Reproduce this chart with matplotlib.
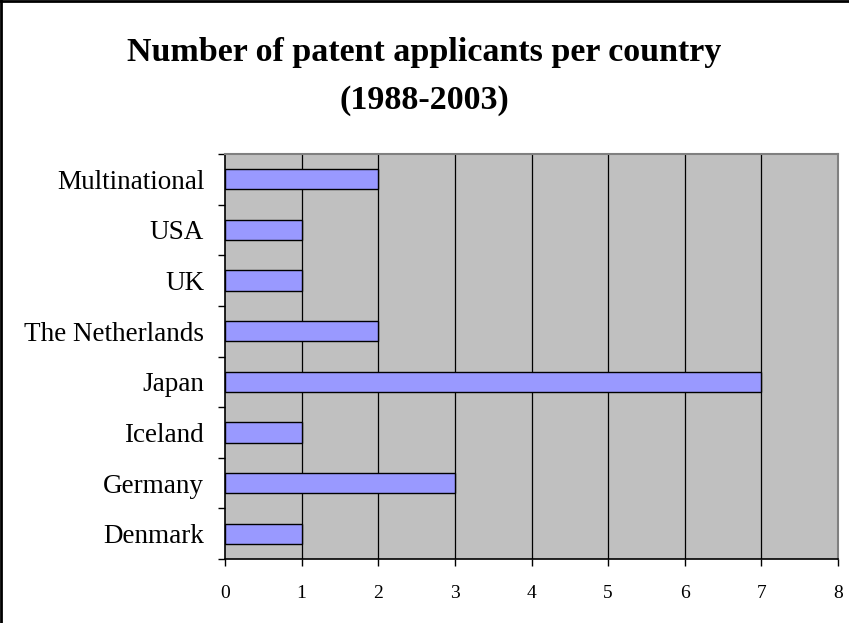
import matplotlib
matplotlib.use("Agg")
import matplotlib.pyplot as plt
from matplotlib.lines import Line2D

categories = ["Denmark", "Germany", "Iceland", "Japan", "The Netherlands", "UK", "USA", "Multinational"]
values = [1, 3, 1, 7, 2, 1, 1, 2]
x_ticks = [0, 1, 2, 3, 4, 5, 6, 7, 8]

plt.rcParams['font.family'] = ['Liberation Serif', 'DejaVu Serif']

fig = plt.figure(figsize=(8.49, 6.23), dpi=100)
fig.patch.set_facecolor("white")
ax = fig.add_axes([225/849, 1-559/623, (838-225)/849, (559-154)/623])
ax.set_facecolor("#C0C0C0")

ypos = list(range(len(categories)))
ax.barh(ypos, values, height=0.4, color="#9999FF", edgecolor="black", linewidth=1.0, zorder=3)

ax.set_xlim(0, 8)
ax.set_ylim(-0.5, len(categories) - 0.5)
ax.set_xticks(x_ticks)
ax.set_xticklabels([str(t) for t in x_ticks], fontsize=14)
for t in x_ticks[1:-1]:
    ax.axvline(t, color="black", linewidth=0.9, zorder=2)

ax.set_yticks(ypos)
ax.set_yticklabels(categories, fontsize=19.5)
ax.set_yticks([i - 0.5 for i in range(len(categories) + 1)], minor=True)
ax.tick_params(axis="y", which="major", length=0, pad=15)
ax.tick_params(axis="y", which="minor", length=5, width=1, direction="out", color="black")
ax.tick_params(axis="x", which="major", length=5, width=1, direction="out", pad=14, color="black")

for s in ["left", "bottom"]:
    ax.spines[s].set_color("black")
    ax.spines[s].set_linewidth(1.2)
for s in ["top", "right"]:
    ax.spines[s].set_color("#808080")
    ax.spines[s].set_linewidth(1.5)

fig.text(0.5, 1-53/623, "Number of patent applicants per country", ha="center", va="center",
         fontsize=24.5, fontweight="bold")
fig.text(0.5, 1-101/623, "(1988-2003)", ha="center", va="center", fontsize=24.5, fontweight="bold")

fig.add_artist(Line2D([0.0015, 0.0015], [0, 1], transform=fig.transFigure, color="black", linewidth=2))
fig.add_artist(Line2D([0, 1], [0.998, 0.998], transform=fig.transFigure, color="black", linewidth=2))

fig.savefig("out.png", dpi=100)
